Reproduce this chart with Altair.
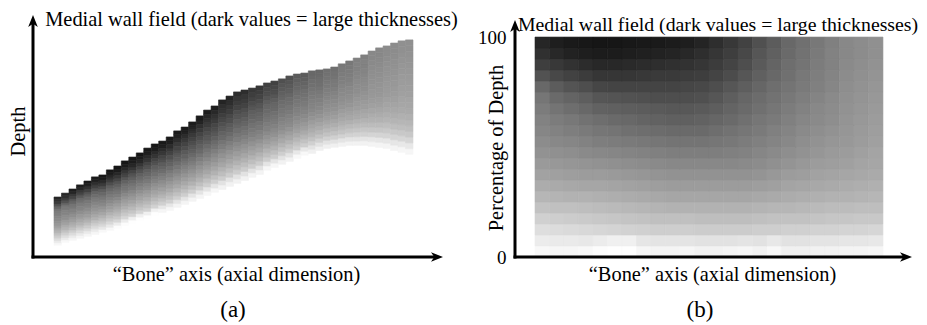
import altair as alt
import pandas as pd

# ---------------- data ----------------
# Panel (a): depth extent of each of 48 axial columns (depth units, axis = 0)
a_top = [24.8, 26.4, 28.1, 29.8, 31.4, 33.1, 33.9, 36.0, 37.6, 39.7, 41.3, 43.0,
         45.0, 46.7, 47.9, 49.6, 52.1, 53.7, 55.8, 58.3, 60.7, 62.4, 64.9, 66.5,
         68.2, 69.0, 69.8, 70.7, 71.9, 72.7, 73.6, 74.8, 75.6, 76.0, 76.9, 77.3,
         77.7, 78.5, 79.8, 81.0, 82.2, 83.5, 85.1, 86.4, 87.2, 88.4, 89.3, 89.7]
a_bottom = [4.8, 6.0, 6.9, 7.7, 8.5, 9.3, 10.2, 11.0, 11.8, 13.0, 13.9, 15.1,
            15.9, 17.2, 18.4, 19.2, 20.5, 21.7, 23.0, 24.2, 25.4, 26.7, 27.9, 29.2,
            30.4, 31.6, 32.9, 34.1, 35.8, 37.0, 38.3, 39.5, 40.7, 42.0, 42.8, 44.0,
            44.9, 45.3, 45.7, 46.1, 46.1, 46.1, 45.7, 45.3, 44.9, 44.0, 43.2, 42.4]

# Panel (b): grey level (0 = black, 255 = white) per 5 % depth band, 24 axial columns
b_p95 = [38, 30, 26, 24, 22, 22, 24, 25, 26, 28, 30, 36, 46, 56, 66, 80, 92, 104, 112, 120, 128, 136, 140, 144]
b_p90 = [48, 40, 34, 30, 28, 28, 30, 32, 34, 36, 40, 46, 54, 62, 72, 86, 96, 106, 114, 122, 130, 136, 140, 144]
b_p85 = [62, 56, 50, 44, 40, 40, 42, 44, 46, 48, 50, 54, 60, 68, 78, 90, 100, 110, 116, 124, 130, 138, 142, 146]
b_p80 = [82, 72, 66, 60, 54, 54, 54, 56, 58, 58, 60, 62, 68, 76, 86, 96, 104, 112, 120, 126, 132, 140, 144, 148]
b_p75 = [104, 92, 84, 78, 70, 68, 68, 68, 68, 68, 70, 72, 78, 86, 94, 102, 110, 116, 122, 128, 134, 142, 146, 150]
b_p70 = [118, 106, 100, 94, 86, 84, 82, 80, 78, 78, 78, 80, 86, 94, 102, 108, 114, 120, 126, 132, 138, 144, 148, 152]
b_p65 = [124, 116, 110, 104, 98, 96, 94, 92, 90, 88, 88, 90, 94, 100, 106, 112, 118, 124, 130, 136, 140, 146, 150, 154]
b_p60 = [130, 124, 120, 114, 110, 106, 104, 100, 98, 96, 96, 98, 102, 106, 112, 118, 122, 128, 134, 138, 142, 148, 152, 156]
b_p55 = [134, 130, 126, 122, 118, 116, 112, 110, 108, 106, 106, 106, 110, 114, 118, 122, 128, 132, 138, 142, 146, 150, 154, 158]
b_p50 = [140, 136, 134, 130, 126, 124, 122, 120, 118, 116, 116, 116, 118, 120, 124, 128, 132, 136, 142, 146, 150, 152, 156, 160]
b_p45 = [146, 144, 142, 138, 136, 134, 132, 130, 128, 126, 126, 126, 126, 128, 130, 134, 138, 142, 146, 150, 154, 156, 160, 164]
b_p40 = [154, 152, 150, 148, 146, 144, 142, 140, 138, 136, 136, 136, 136, 136, 138, 140, 144, 148, 152, 156, 158, 160, 164, 166]
b_p35 = [162, 160, 158, 156, 156, 154, 152, 150, 148, 146, 146, 146, 146, 146, 146, 148, 152, 156, 158, 162, 164, 166, 168, 170]
b_p30 = [172, 170, 168, 166, 166, 164, 162, 160, 158, 156, 156, 156, 156, 156, 156, 158, 160, 164, 166, 168, 170, 172, 174, 176]
b_p25 = [182, 180, 178, 178, 176, 174, 172, 170, 168, 166, 166, 166, 166, 166, 166, 168, 170, 172, 174, 176, 178, 178, 180, 182]
b_p20 = [194, 192, 192, 190, 188, 186, 184, 182, 180, 178, 178, 178, 178, 178, 178, 180, 182, 182, 184, 186, 188, 188, 190, 190]
b_p15 = [208, 206, 204, 202, 200, 198, 196, 194, 192, 192, 192, 190, 190, 190, 190, 192, 194, 194, 194, 196, 198, 198, 200, 200]
b_p10 = [222, 220, 218, 216, 214, 212, 210, 208, 206, 206, 206, 204, 204, 204, 204, 206, 206, 208, 208, 210, 210, 212, 212, 214]
b_p05 = [236, 234, 234, 232, 236, 240, 240, 230, 228, 228, 228, 226, 226, 226, 228, 226, 232, 226, 226, 228, 228, 230, 230, 232]
b_p00 = [248, 246, 246, 248, 252, 254, 254, 246, 244, 244, 246, 242, 242, 244, 246, 242, 248, 240, 240, 242, 242, 244, 244, 246]
b_bands = [b_p00, b_p05, b_p10, b_p15, b_p20, b_p25, b_p30, b_p35, b_p40, b_p45,
           b_p50, b_p55, b_p60, b_p65, b_p70, b_p75, b_p80, b_p85, b_p90, b_p95]
band_edges = [0, 5, 10, 15, 20, 25, 30, 35, 40, 45, 50, 55, 60, 65, 70, 75, 80, 85, 90, 95, 100]

title_text = "Medial wall field (dark values = large thicknesses)"
x_title = "\u201cBone\u201d axis (axial dimension)"
a_ylabel = "Depth"
b_ylabel = "Percentage of Depth"
b_ticks = [0, 100]
panel_tags = ["(a)", "(b)"]

# ---------------- tables ----------------
b_rec = []
for r, band in enumerate(b_bands):
    for c, g in enumerate(band):
        b_rec.append(dict(col=c, col2=c + 1, lo=band_edges[r], hi=band_edges[r + 1], g=g))
a_rec = []
ncol_b = len(b_bands[0])
for i, (top, bot) in enumerate(zip(a_top, a_bottom)):
    c = i * ncol_b // len(a_top)
    for r, band in enumerate(b_bands):
        lo = bot + (top - bot) * band_edges[r] / 100
        hi = bot + (top - bot) * band_edges[r + 1] / 100
        a_rec.append(dict(col=i, col2=i + 1, lo=lo, hi=hi, g=band[c]))
df_a = pd.DataFrame(a_rec)
df_b = pd.DataFrame(b_rec)
one = pd.DataFrame({"k": [0]})

# ---------------- styling / layout ----------------
FONT = "Liberation Serif"
FS = 20.4
WA, WB, H = 404, 391, 236
ARROW = "M1,0 L-1,-0.8 L-0.45,0 L-1,0.8 Z"
grey = alt.Scale(domain=[0, 255], range=["#000000", "#ffffff"], interpolate="rgb")


def axis_common(**kw):
    base = dict(domain=False, ticks=False, grid=False, titleFont=FONT, titleFontSize=FS,
                titleFontWeight="normal", titleColor="black", titleBaseline="middle",
                titleAlign="center")
    base.update(kw)
    return alt.Axis(**base)


def decorations(width, up_y, title_x, title_y, title_fs, tag, tag_x):
    vline = alt.Chart(one).mark_rule(color="black", strokeWidth=3).encode(
        x=alt.value(0), y=alt.value(H + 1.5), y2=alt.value(up_y + 2))
    hline = alt.Chart(one).mark_rule(color="black", strokeWidth=3).encode(
        x=alt.value(-1.5), x2=alt.value(width - 2), y=alt.value(H))
    arrow_r = alt.Chart(one).mark_point(shape=ARROW, filled=True, size=144, color="black",
                                         opacity=1, strokeWidth=0).encode(
        x=alt.value(width), y=alt.value(H))
    arrow_u = alt.Chart(one).mark_point(shape=ARROW, filled=True, size=144, color="black",
                                         opacity=1, strokeWidth=0, angle=270).encode(
        x=alt.value(0), y=alt.value(up_y))
    ttl = alt.Chart(one).mark_text(text=title_text, font=FONT, fontSize=title_fs,
                                   baseline="middle", align="center", color="black").encode(
        x=alt.value(title_x), y=alt.value(title_y))
    tg = alt.Chart(one).mark_text(text=tag, font=FONT, fontSize=23, baseline="middle",
                                  align="center", color="black").encode(
        x=alt.value(tag_x), y=alt.value(289))
    return [vline, hline, arrow_r, arrow_u, ttl, tg]


frame = alt.Chart(one).mark_rect(color="white").encode(
    x=alt.value(-25), x2=alt.value(0), y=alt.value(-13), y2=alt.value(0))

heat_a = alt.Chart(df_a).mark_rect(strokeWidth=0.6).encode(
    x=alt.X("col:Q", scale=alt.Scale(domain=[-2.81, 51.21], nice=False, zero=False),
            axis=axis_common(title=x_title, labels=False, titleX=203, titleY=17.5)),
    x2="col2:Q",
    y=alt.Y("lo:Q", scale=alt.Scale(domain=[0, 97.5], nice=False, zero=False),
            axis=axis_common(title=a_ylabel, labels=False, titleX=-14.5, titleY=110,
                             titleAngle=270)),
    y2="hi:Q",
    color=alt.Color("g:Q", scale=grey, legend=None),
    stroke=alt.Stroke("g:Q", scale=grey, legend=None),
)

heat_b = alt.Chart(df_b).mark_rect(strokeWidth=0.6).encode(
    x=alt.X("col:Q", scale=alt.Scale(domain=[-1.38, 25.59], nice=False, zero=False),
            axis=axis_common(title=x_title, labels=False, titleX=197, titleY=17.5)),
    x2="col2:Q",
    y=alt.Y("lo:Q", scale=alt.Scale(domain=[0, 107.3], nice=False, zero=False),
            axis=axis_common(title=b_ylabel, values=b_ticks, labels=True, labelFont=FONT,
                             labelFontSize=19, labelColor="black", labelPadding=9,
                             titleX=-18.3, titleY=126.5, titleAngle=270)),
    y2="hi:Q",
    color=alt.Color("g:Q", scale=grey, legend=None),
    stroke=alt.Stroke("g:Q", scale=grey, legend=None),
)

panel_a = alt.layer(frame, heat_a,
                    *decorations(WA, 0, 218.5, -1.5, FS, panel_tags[0], 200)).properties(
    width=WA, height=H)
panel_b = alt.layer(heat_b,
                    *decorations(WB, 5, 203, 3.5, 19.8, panel_tags[1], 185)).properties(
    width=WB, height=H)

chart = alt.hconcat(panel_a, panel_b, spacing=78, bounds="flush").properties(
    padding=0, background="white"
).configure_view(stroke=None)

chart.save("out.html", embed_options={"renderer": "svg", "actions": False})
